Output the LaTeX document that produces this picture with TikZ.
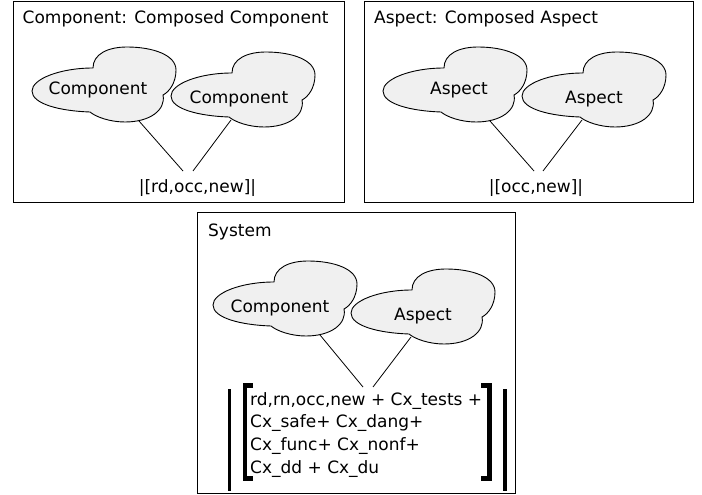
\documentclass[tikz,border=0pt]{standalone}
\usepackage{fontspec}
\setmainfont{DejaVu Sans}
\usepackage{tikz}
\definecolor{cloudgray}{RGB}{240,240,240}
\tikzset{frame/.style = {draw, line width=1pt}}
\tikzset{title/.style = {anchor=base west, inner sep=0pt}}
\tikzset{link/.style = {line width=0.8pt}}
\tikzset{bar/.style = {line width=3.5pt}}
\tikzset{bracket/.style = {line width=4.5pt, line join=miter}}
\tikzset{pics/cloud/.style 2 args = {code = {
  \filldraw [fill=cloudgray, line width=0.9pt]
    (-66,-4) .. controls (-66,-16) and (-38,-27) .. (-5,-27)
    .. controls (-5,-41) and (10,-48) .. (29,-48)
    .. controls (55,-48) and (78,-40) .. (78,-25)
    .. controls (78,-12) and (71,-3) .. (65,0)
    .. controls (68,15) and (52,27) .. (27,27)
    .. controls (12,27) and (-2,22) .. (-8,17)
    .. controls (-38,16) and (-66,9) .. (-66,-4) -- cycle;
  \node [anchor=base, inner sep=0pt] (-txt) at #2 {#1};
  \coordinate (-se) at (41,26);
  \coordinate (-sw) at (-6,20);
}}}

\begin{document}
\begin{tikzpicture}[x=1pt, y=-1pt, every node/.style={font=\fontsize{17}{22.7}\selectfont}]
      \useasboundingbox (0,0) rectangle (702,495);
      % composed component
      \draw [frame] (13,2) rectangle (344,202);
      \node [title] (t1) at (22.5,23.3) {Component: Composed Component};
      \pic (a1) at (98,95) {cloud={Component}{(0,0)}};
      \pic (a2) at (237,100) {cloud={Component}{(2,3)}};
      \node [anchor=base, inner sep=0pt] (r1) at (197.5,192) {|[rd,occ,new]|};
      \coordinate (j1) at (183,171);
      \coordinate (j2) at (193,171);
      \draw [link] (a1-se) -- (j1);
      \draw [link] (a2-sw) -- (j2);
      % composed aspect
      \draw [frame] (364,2) rectangle (693,202);
      \node [title] (t2) at (374,23.3) {Aspect: Composed Aspect};
      \pic (b1) at (449,95) {cloud={Aspect}{(10,0)}};
      \pic (b2) at (588,100) {cloud={Aspect}{(6,3)}};
      \node [anchor=base, inner sep=0pt] (r2) at (536,192) {|[occ,new]|};
      \coordinate (j3) at (534,171);
      \coordinate (j4) at (543,171);
      \draw [link] (b1-se) -- (j3);
      \draw [link] (b2-sw) -- (j4);
      % system
      \draw [frame] (197,212.5) rectangle (515,493);
      \node [title] (t3) at (208,236.5) {System};
      \pic (c1) at (279,309) {cloud={Component}{(1,3)}};
      \pic (c2) at (417,317) {cloud={Aspect}{(6,3)}};
      \node [anchor=north west, align=left, inner sep=0pt] (sum) at (250,392.1)
        {rd,rn,occ,new + Cx\_tests +\\Cx\_safe+ Cx\_dang+\\Cx\_func+ Cx\_nonf+\\Cx\_dd + Cx\_du};
      \coordinate (j5) at (363,387);
      \coordinate (j6) at (373,387);
      \draw [link] (c1-se) -- (j5);
      \draw [link] (c2-sw) -- (j6);
      \draw [bar] (229.5,389) -- (229.5,491);
      \draw [bar] (505,389) -- (505,491);
      \draw [bracket] (253,385.5) -- (245,385.5) -- (245,478.5) -- (253,478.5);
      \draw [bracket] (481,385.5) -- (489.5,385.5) -- (489.5,478.5) -- (481,478.5);
    \end{tikzpicture}
\end{document}
